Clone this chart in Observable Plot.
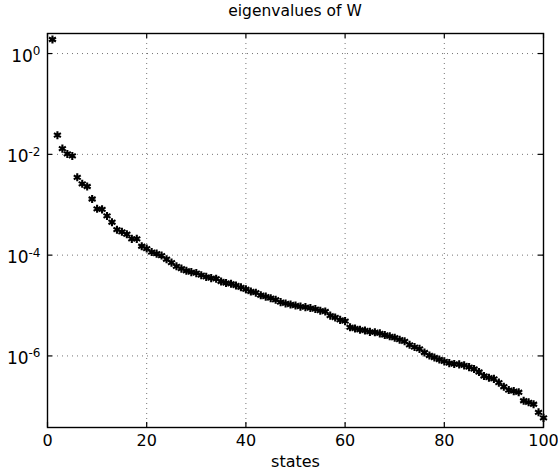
<!DOCTYPE html>
<html>
<head>
<meta charset="utf-8">
<script src="https://cdn.jsdelivr.net/npm/d3@7"></script>
<script src="https://cdn.jsdelivr.net/npm/@observablehq/plot@0.6"></script>
<style>
  html, body { margin: 0; padding: 0; background: #fff; }
  #wrap { width: 558px; height: 472px; position: relative; }
  #title { box-sizing: border-box; width: 558px; height: 24px; padding-left: 47px; padding-right: 15px;
           text-align: center; font-family: "DejaVu Sans", sans-serif; font-size: 15.5px; line-height: 22px; color: #000; }
  svg { display: block; }
</style>
</head>
<body>
<div id="wrap">
  <div id="title">eigenvalues of W</div>
  <div id="chart"></div>
</div>
<script>
// state index (x) and eigenvalue (y)
const states = [
  1,2,3,4,5,6,7,8,9,10,11,12,13,14,15,16,17,18,19,20,
  21,22,23,24,25,26,27,28,29,30,31,32,33,34,35,36,37,38,39,40,
  41,42,43,44,45,46,47,48,49,50,51,52,53,54,55,56,57,58,59,60,
  61,62,63,64,65,66,67,68,69,70,71,72,73,74,75,76,77,78,79,80,
  81,82,83,84,85,86,87,88,89,90,91,92,93,94,95,96,97,98,99,100
];
const eigenvalues = [
  1.9, 2.4e-2, 1.3e-2, 1.02e-2, 9.3e-3, 3.5e-3, 2.6e-3, 2.3e-3, 1.3e-3, 8.3e-4,
  8.1e-4, 6.0e-4, 4.5e-4, 3.2e-4, 2.9e-4, 2.6e-4, 2.1e-4, 2.1e-4, 1.5e-4, 1.35e-4,
  1.15e-4, 1.07e-4, 9.8e-5, 8.3e-5, 7.1e-5, 6.0e-5, 5.4e-5, 4.9e-5, 4.6e-5, 4.4e-5,
  4.0e-5, 3.7e-5, 3.5e-5, 3.4e-5, 3.0e-5, 2.8e-5, 2.7e-5, 2.5e-5, 2.3e-5, 2.1e-5,
  1.9e-5, 1.8e-5, 1.6e-5, 1.5e-5, 1.4e-5, 1.3e-5, 1.17e-5, 1.10e-5, 1.05e-5, 1.0e-5,
  9.5e-6, 9.3e-6, 8.9e-6, 8.5e-6, 7.9e-6, 7.6e-6, 6.3e-6, 5.8e-6, 5.2e-6, 4.9e-6,
  3.7e-6, 3.5e-6, 3.3e-6, 3.2e-6, 3.0e-6, 2.95e-6, 2.8e-6, 2.6e-6, 2.45e-6, 2.3e-6,
  2.1e-6, 1.95e-6, 1.66e-6, 1.5e-6, 1.38e-6, 1.17e-6, 1.02e-6, 9.3e-7, 8.5e-7, 7.8e-7,
  7.2e-7, 6.9e-7, 6.8e-7, 6.5e-7, 6.0e-7, 5.5e-7, 4.8e-7, 4.0e-7, 3.7e-7, 3.5e-7,
  2.95e-7, 2.45e-7, 2.1e-7, 2.0e-7, 1.9e-7, 1.29e-7, 1.2e-7, 1.1e-7, 7.6e-8, 5.9e-8
];
const xTicks = [0, 20, 40, 60, 80, 100];
const yTicks = [1, 1e-2, 1e-4, 1e-6];
const xDomain = [0, 100];
const yDomain = [3.8e-8, 2.5];

const data = states.map((s, i) => ({state: s, value: eigenvalues[i]}));

const W = 558, H = 448;
const mL = 47, mR = 15, mT = 9, mB = 45;
const plotW = W - mL - mR, plotH = H - mT - mB;
const tickLen = 5;

const chart = Plot.plot({
  width: W,
  height: H,
  marginLeft: mL,
  marginRight: mR,
  marginTop: mT,
  marginBottom: mB,
  style: {fontFamily: "DejaVu Sans, sans-serif", fontSize: "16px", color: "#000", background: "#fff"},
  x: {domain: xDomain, axis: null},
  y: {type: "log", domain: yDomain, axis: null},
  marks: [
    Plot.gridX(xTicks.slice(1, -1), {stroke: "#000", strokeOpacity: 0.55, strokeDasharray: "1,4"}),
    Plot.gridY(yTicks, {stroke: "#000", strokeOpacity: 0.55, strokeDasharray: "1,4"}),
    // inward tick marks on all four sides
    Plot.tickX(xTicks, {x: d => d, insetTop: plotH - tickLen, stroke: "#000", strokeWidth: 1.2}),
    Plot.tickX(xTicks, {x: d => d, insetBottom: plotH - tickLen, stroke: "#000", strokeWidth: 1.2}),
    Plot.tickY(yTicks, {y: d => d, insetRight: plotW - tickLen, stroke: "#000", strokeWidth: 1.2}),
    Plot.tickY(yTicks, {y: d => d, insetLeft: plotW - tickLen, stroke: "#000", strokeWidth: 1.2}),
    Plot.frame({stroke: "#000", strokeWidth: 1.4}),
    Plot.axisX(xTicks, {tickSize: 0, tickPadding: 7, fontSize: 16, label: "states", labelAnchor: "center",
                        labelArrow: "none", labelOffset: 39, tickFormat: d => String(d)}),
    Plot.axisY(yTicks, {tickSize: 0, tickPadding: 7, fontSize: 17, label: null,
                        tickFormat: d => "10^" + Math.round(Math.log10(d))}),
    Plot.dot(data, {x: "state", y: "value", symbol: "asterisk", r: 3.8, stroke: "#000", strokeWidth: 2.1})
  ]
});

// render exponents as superscripts (real text)
chart.querySelectorAll('g[aria-label="y-axis tick label"] text').forEach(t => {
  const s = t.textContent;
  const k = s.indexOf("^");
  if (k < 0) return;
  const base = s.slice(0, k), exp = s.slice(k + 1);
  t.textContent = "";
  const b = document.createElementNS("http://www.w3.org/2000/svg", "tspan");
  b.textContent = base;
  b.setAttribute("dy", "0.15em");
  const e = document.createElementNS("http://www.w3.org/2000/svg", "tspan");
  e.textContent = exp;
  e.setAttribute("font-size", "12px");
  e.setAttribute("dy", "-0.55em");
  t.appendChild(b);
  t.appendChild(e);
});

document.getElementById("chart").appendChild(chart);
</script>
</body>
</html>
